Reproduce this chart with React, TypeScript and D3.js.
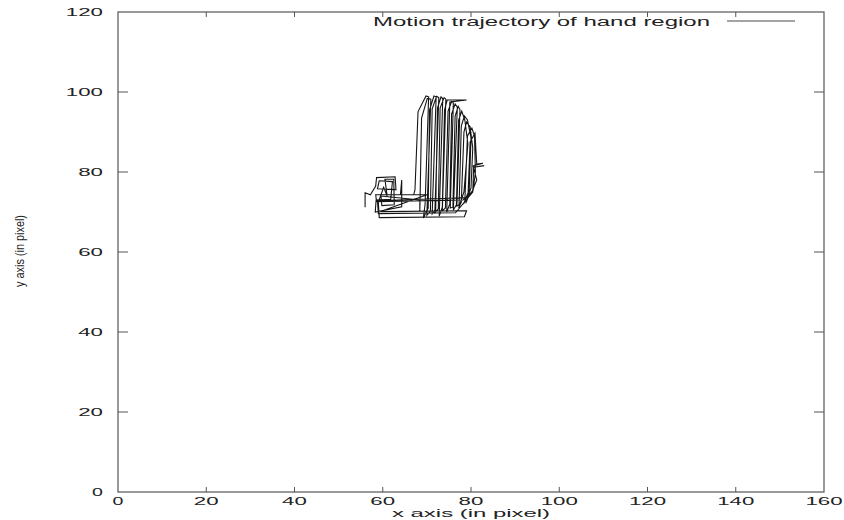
import React from 'react';
import * as d3 from 'd3';

const W = 844;
const H = 520;

const xTicks = [0, 20, 40, 60, 80, 100, 120, 140, 160];
const yTicks = [0, 20, 40, 60, 80, 100, 120];
const xLabel = 'x axis (in pixel)';
const yLabel = 'y axis (in pixel)';
const legendLabel = 'Motion trajectory of hand region';

// Hand trajectory (x, y in pixels)
const trajX = [
  // start: small box on the left
  56.0, 56.0, 57.2, 58.4, 58.6, 62.8, 63.0, 58.8, 59.2, 62.2, 61.8, 58.5, 58.3, 64.3, 64.3, 64.0, 67.0,
  // first sweep of strokes
  67.3, 68.0, 69.8, 70.4, 69.6, 69.2, 70.3, 70.6, 71.6, 72.1, 71.2, 72.0, 72.4, 73.2, 73.6, 72.8,
  73.5, 74.0, 74.6, 79.0, 75.2, 74.5, 75.2, 75.6, 76.4, 76.9, 76.0, 76.7, 77.2, 77.9, 78.6, 79.3,
  78.4, 77.2, 77.8, 78.4, 79.0, 79.8, 80.4, 80.0, 78.8, 79.3, 79.8, 80.9, 81.3, 82.7, 80.5, 81.3,
  80.1, 78.2,
  // back along the bottom
  58.6, 58.4, 70.0, 59.5, 79.0, 78.5, 59.2, 59.0, 60.2, 61.0,
  // second box pass
  60.5, 62.5, 62.6, 59.8, 59.6, 68.4,
  // second sweep of strokes
  68.4, 68.8, 70.1, 70.9, 70.0, 70.8, 71.2, 72.2, 72.7, 71.8, 72.6, 73.0, 73.9, 74.3, 73.5,
  74.2, 74.8, 75.6, 76.0, 75.3, 75.9, 76.4, 77.1, 77.5, 76.8, 77.3, 77.8, 78.5, 79.2, 80.0,
  79.6, 78.3, 78.6, 79.2, 80.2, 80.8, 81.0, 80.5, 79.0,
  // return and right-side horizontals
  58.8, 59.0, 76.5, 80.4, 80.6, 83.0,
];
const trajY = [
  71.2, 74.8, 74.3, 76.5, 78.6, 78.8, 75.6, 75.8, 77.8, 77.6, 73.2, 73.0, 70.0, 71.3, 78.0, 74.3, 74.3,
  75.5, 95.1, 99.0, 98.8, 72.0, 68.5, 71.0, 95.5, 99.0, 98.8, 69.5, 70.5, 96.0, 98.8, 98.3, 69.0,
  71.2, 95.5, 98.0, 98.0, 97.5, 70.0, 72.0, 94.5, 97.0, 96.2, 70.5, 71.8, 93.0, 95.2, 93.0, 87.0,
  75.0, 71.0, 72.5, 90.0, 92.5, 91.3, 86.0, 76.0, 72.2, 73.5, 87.5, 89.7, 82.0, 82.2, 81.5, 78.0,
  74.7, 73.0,
  72.6, 74.3, 74.3, 70.1, 70.3, 68.8, 68.6, 72.5, 76.2, 74.0,
  78.2, 78.2, 71.8, 71.6, 74.0, 73.0,
  70.0, 93.5, 98.4, 98.2, 69.2, 70.2, 95.8, 98.9, 98.6, 69.8, 70.8, 96.0, 98.6, 98.2, 70.3,
  71.0, 95.2, 97.6, 97.3, 71.0, 71.2, 94.0, 96.4, 95.6, 71.5, 71.8, 91.5, 94.0, 93.0, 88.5,
  75.5, 72.0, 72.6, 89.0, 91.0, 89.0, 80.0, 75.5, 73.6,
  72.8, 69.6, 69.8, 75.0, 81.2, 81.6,
];

const FONT = '"Liberation Sans", Arial, Helvetica, sans-serif';
const DIGIT_W = 12.4;

export default function App() {
  const x = d3.scaleLinear().domain([0, 160]).range([118, 824]);
  const y = d3.scaleLinear().domain([0, 120]).range([492, 12]);
  const pts: [number, number][] = trajX.map((v, i) => [v, trajY[i]]);
  const line = d3
    .line<[number, number]>()
    .x((d) => x(d[0]))
    .y((d) => y(d[1]));

  const x0 = x(0), x1 = x(160), y0 = y(0), y1 = y(120);
  const axisColor = '#555';
  const textColor = '#222';

  return (
    <svg width={W} height={H} style={{ position: 'absolute', left: 0, top: 0, background: '#fff' }}>
      {/* frame */}
      <rect x={x0} y={y1} width={x1 - x0} height={y0 - y1} fill="none" stroke={axisColor} strokeWidth={1.2} />
      {/* x ticks */}
      {xTicks.map((t) => (
        <g key={'xt' + t}>
          {t > 0 && t < 160 && (
            <>
              <line x1={x(t)} x2={x(t)} y1={y0} y2={y0 - 5} stroke={axisColor} />
              <line x1={x(t)} x2={x(t)} y1={y1} y2={y1 + 5} stroke={axisColor} />
            </>
          )}
          <text
            x={x(t)}
            y={505}
            textAnchor="middle"
            fontFamily={FONT}
            fontSize={10.5}
            fill={textColor}
            textLength={String(t).length * DIGIT_W - (t === 0 ? 1.5 : 0)}
            lengthAdjust="spacingAndGlyphs"
          >
            {t}
          </text>
        </g>
      ))}
      {/* y ticks */}
      {yTicks.map((t) => (
        <g key={'yt' + t}>
          {t > 0 && t < 120 && (
            <>
              <line x1={x0} x2={x0 + 10} y1={y(t)} y2={y(t)} stroke={axisColor} />
              <line x1={x1} x2={x1 - 10} y1={y(t)} y2={y(t)} stroke={axisColor} />
            </>
          )}
          <text
            x={103}
            y={y(t) + 3.7}
            textAnchor="end"
            fontFamily={FONT}
            fontSize={10.5}
            fill={textColor}
            textLength={String(t).length * DIGIT_W - (t === 0 ? 1.5 : 0)}
            lengthAdjust="spacingAndGlyphs"
          >
            {t}
          </text>
        </g>
      ))}
      {/* axis labels */}
      <text
        x={471}
        y={516.5}
        textAnchor="middle"
        fontFamily={FONT}
        fontSize={10.5}
        fill={textColor}
        textLength={158}
        lengthAdjust="spacingAndGlyphs"
      >
        {xLabel}
      </text>
      <text
        transform="translate(24,251) rotate(-90)"
        textAnchor="middle"
        fontFamily={FONT}
        fontSize={12}
        fill={textColor}
        textLength={72}
        lengthAdjust="spacingAndGlyphs"
      >
        {yLabel}
      </text>
      {/* legend */}
      <text
        x={373}
        y={25.8}
        fontFamily={FONT}
        fontSize={12.5}
        fill={textColor}
        textLength={337}
        lengthAdjust="spacingAndGlyphs"
      >
        {legendLabel}
      </text>
      <line x1={727} x2={795} y1={21} y2={21} stroke="#333" strokeWidth={0.9} />
      {/* trajectory */}
      <path d={line(pts) || ''} fill="none" stroke="#151515" strokeWidth={1.1} strokeLinejoin="miter" />
    </svg>
  );
}
